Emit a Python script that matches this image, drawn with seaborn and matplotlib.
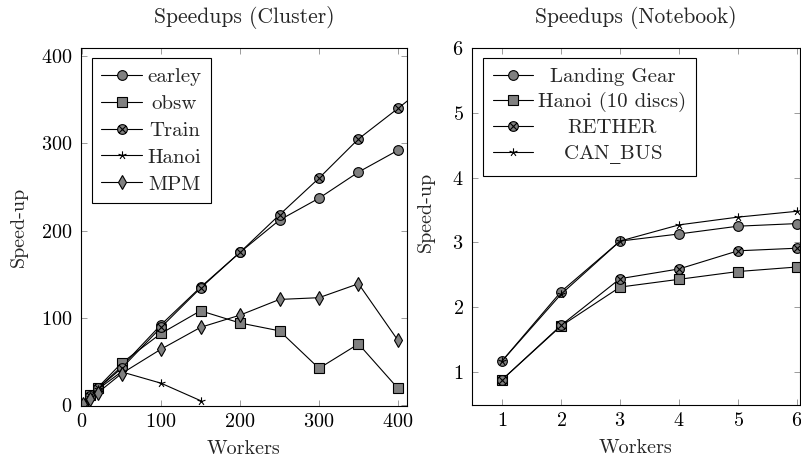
import numpy as np
import pandas as pd
import matplotlib
matplotlib.use('Agg')
import matplotlib.pyplot as plt
from matplotlib.path import Path
import seaborn as sns

# Speedups (Cluster)
cluster_workers = [1, 10, 20, 50, 100, 150, 200, 250, 300, 350, 400]
earley = [1, 10, 19, 44, 92, 135, 175, 212, 237, 267, 292]
obsw = [1, 11, 20, 48, 82, 108, 94, 85, 42, 70, 19]
train_workers = [1, 10, 20, 50, 100, 150, 200, 250, 300, 350, 400, 450]
train = [1, 10, 19, 42, 89, 134, 175, 218, 260, 305, 340, 376]
hanoi_workers = [1, 10, 20, 50, 100, 150]
hanoi = [1, 9, 18, 38, 25, 5]
mpm = [1, 7, 14, 36, 64, 89, 103, 121, 123, 139, 74]

# Speedups (Notebook)
nb_workers = [1, 2, 3, 4, 5, 6]
landing_gear = [1.17, 2.24, 3.02, 3.13, 3.25, 3.29]
hanoi10 = [0.88, 1.71, 2.31, 2.43, 2.55, 2.62]
rether = [0.88, 1.72, 2.44, 2.59, 2.87, 2.91]
can_bus = [1.17, 2.20, 3.02, 3.27, 3.39, 3.48]

# маркеры как в pgfplots: otimes и star (из линий)
t = np.linspace(0, 2 * np.pi, 41)
d = np.sqrt(0.5)
otimes = Path(
    list(np.column_stack([np.cos(t), np.sin(t)])) + [(-d, -d), (d, d), (-d, d), (d, -d)],
    [Path.MOVETO] + [Path.LINETO] * 39 + [Path.CLOSEPOLY]
    + [Path.MOVETO, Path.LINETO, Path.MOVETO, Path.LINETO],
)
star_v, star_c = [], []
for k in range(5):
    a = np.pi / 2 + k * 2 * np.pi / 5
    star_v += [(0, 0), (np.cos(a), np.sin(a))]
    star_c += [Path.MOVETO, Path.LINETO]
star = Path(star_v, star_c)

sns.set_style('ticks')
plt.rcParams['font.family'] = ['cmr10', 'DejaVu Serif']
plt.rcParams['axes.formatter.use_mathtext'] = True
plt.rcParams['mathtext.fontset'] = 'dejavuserif'
plt.rcParams['font.size'] = 14.5
plt.rcParams['axes.edgecolor'] = 'black'
plt.rcParams['axes.linewidth'] = 0.8
for a in ['xtick', 'ytick']:
    plt.rcParams[a + '.direction'] = 'in'
    plt.rcParams[a + '.major.size'] = 4.5
    plt.rcParams[a + '.major.width'] = 0.6
    plt.rcParams[a + '.color'] = '#8c8c8c'
    plt.rcParams[a + '.labelcolor'] = 'black'
    plt.rcParams[a + '.labelsize'] = 14.5
plt.rcParams['xtick.top'] = True
plt.rcParams['ytick.right'] = True
plt.rcParams['xtick.major.pad'] = 5
plt.rcParams['ytick.major.pad'] = 6

fig = plt.figure(figsize=(8.01, 4.62), dpi=100)
ax1 = fig.add_axes([81 / 801, 56 / 462, 326 / 801, 358 / 462])
ax2 = fig.add_axes([472 / 801, 57 / 462, 328 / 801, 357 / 462])

style = dict(color='black', linewidth=0.8, markerfacecolor='#808080',
             markeredgecolor='black', markeredgewidth=0.8)


def series(ax, x, y, label, marker, ms):
    df = pd.DataFrame({'Workers': x, 'Speed-up': y})
    sns.lineplot(data=df, x='Workers', y='Speed-up', ax=ax, label=label,
                 marker=marker, markersize=ms, **style)


series(ax1, cluster_workers, earley, 'earley', 'o', 7)
series(ax1, cluster_workers, obsw, 'obsw', 's', 7)
series(ax1, train_workers, train, 'Train', otimes, 7)
series(ax1, hanoi_workers, hanoi, 'Hanoi', star, 6)
series(ax1, cluster_workers, mpm, 'MPM', 'd', 7)

series(ax2, nb_workers, landing_gear, 'Landing Gear', 'o', 7)
series(ax2, nb_workers, hanoi10, 'Hanoi (10 discs)', 's', 7)
series(ax2, nb_workers, rether, 'RETHER', otimes, 7)
series(ax2, nb_workers, can_bus, 'CAN$\\_$BUS', star, 6)

ax1.set_xlim(-1.3, 411.4)
ax1.set_ylim(-1.15, 409.2)
ax1.set_xticks([0, 100, 200, 300, 400])
ax1.set_yticks([0, 100, 200, 300, 400])
ax2.set_xlim(0.49, 6.05)
ax2.set_ylim(0.49, 5.99)
ax2.set_xticks([1, 2, 3, 4, 5, 6])
ax2.set_yticks([1, 2, 3, 4, 5, 6])

ax1.set_title('Speedups (Cluster)', pad=18, fontsize=15.5)
ax2.set_title('Speedups (Notebook)', pad=18, fontsize=15.5)
for ax in [ax1, ax2]:
    ax.set_xlabel('Workers', fontsize=14.5)
    ax.set_ylabel('Speed-up', fontsize=14.5)
    ax.xaxis.set_label_coords(0.5, -0.095)
ax1.yaxis.set_label_coords(-0.163, 0.5)
ax2.yaxis.set_label_coords(-0.113, 0.54)


def make_legend(ax, anchor, spacing):
    leg = ax.legend(loc='upper left', bbox_to_anchor=anchor, borderaxespad=0,
                    fancybox=False, framealpha=1, edgecolor='black',
                    handlelength=1.95, handletextpad=0.25, labelspacing=spacing,
                    borderpad=0.45, fontsize=15, numpoints=1)
    leg.get_frame().set_linewidth(0.8)
    # текст в легенде по центру, как в pgfplots
    r = fig.canvas.get_renderer()
    texts = leg.get_texts()
    widths = [tx.get_window_extent(r).width for tx in texts]
    for tx, w in zip(texts, widths):
        tx.set_position(((max(widths) - w) / 2, 0))


make_legend(ax1, (0.034, 0.972), 0.4)
make_legend(ax2, (0.034, 0.972), 0.3)

plt.savefig('out.png', dpi=100)
